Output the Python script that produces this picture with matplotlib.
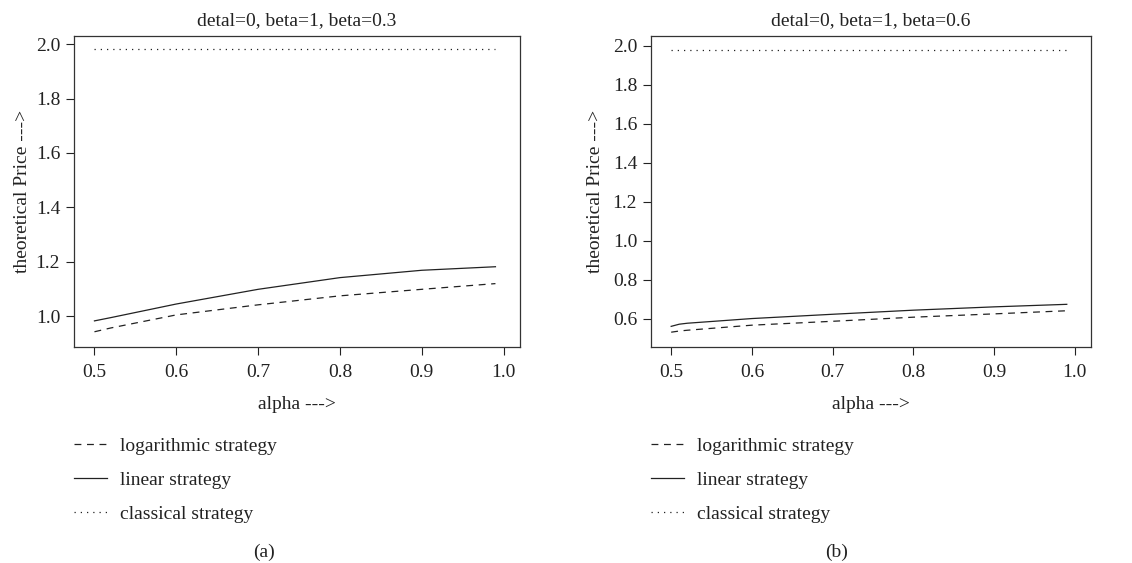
import numpy as np
import matplotlib
matplotlib.use('Agg')
import matplotlib.pyplot as plt

plt.rcParams['font.family'] = ['Liberation Serif', 'DejaVu Serif']
plt.rcParams['font.size'] = 14

# values
alpha = [0.5, 0.51, 0.52, 0.6, 0.7, 0.8, 0.9, 0.99]

log_a = [0.943, 0.950, 0.957, 1.005, 1.042, 1.075, 1.099, 1.120]
lin_a = [0.983, 0.989, 0.995, 1.045, 1.099, 1.142, 1.169, 1.182]
cls_a = [1.983] * len(alpha)

log_b = [0.530, 0.536, 0.540, 0.566, 0.586, 0.607, 0.624, 0.640]
lin_b = [0.560, 0.571, 0.576, 0.600, 0.622, 0.643, 0.660, 0.673]
cls_b = [1.980] * len(alpha)

titles = ['detal=0, beta=1, beta=0.3', 'detal=0, beta=1, beta=0.6']
panel_tags = ['(a)', '(b)']
labels = ['logarithmic strategy', 'linear strategy', 'classical strategy']

W, H = 1132, 563
fig = plt.figure(figsize=(W / 100, H / 100), dpi=100)

def px_box(x0, y0, x1, y1):
    return [x0 / W, 1 - y1 / H, (x1 - x0) / W, (y1 - y0) / H]

def panel(box, title, log, lin, cls, ylim, yticks, leg_xy, tag_xy, tag, ylpad):
    ax = fig.add_axes(px_box(*box))
    l1, = ax.plot(alpha, log, color='#222222', lw=0.9, linestyle=(0, (5.5, 4.5)))
    l2, = ax.plot(alpha, lin, color='#222222', lw=0.9)
    l3, = ax.plot(alpha, cls, color='#222222', lw=0.9, linestyle=(0, (1, 4)))
    ax.set_xlim(0.475, 1.02)
    ax.set_ylim(*ylim)
    ax.set_xticks([0.5, 0.6, 0.7, 0.8, 0.9, 1.0])
    ax.set_yticks(yticks)
    ax.xaxis.set_major_formatter(plt.FormatStrFormatter('%.1f'))
    ax.yaxis.set_major_formatter(plt.FormatStrFormatter('%.1f'))
    ax.tick_params(direction='out', length=6, width=0.8, colors='#222222',
                   labelsize=14, pad=4)
    ax.tick_params(axis='x', pad=6)
    for s in ax.spines.values():
        s.set_linewidth(0.9)
        s.set_color('#333333')
    ax.set_title(title, fontsize=14, pad=8, color='#222222')
    ax.set_xlabel('alpha --->', fontsize=14, labelpad=11, color='#222222')
    ax.set_ylabel('theoretical Price --->', fontsize=14, labelpad=ylpad, color='#222222')
    fig.legend([l1, l2, l3], labels, loc='upper left',
               bbox_to_anchor=(leg_xy[0] / W, 1 - leg_xy[1] / H),
               frameon=False, fontsize=14, handlelength=1.7,
               handletextpad=0.67, labelspacing=0.85, borderpad=0,
               borderaxespad=0, labelcolor='#222222')
    fig.text(tag_xy[0] / W, 1 - tag_xy[1] / H, tag, ha='center', va='center',
             fontsize=14, color='#222222')
    return ax

panel((74, 36, 520, 347), titles[0], log_a, lin_a, cls_a, (0.887, 2.03),
      [1.0, 1.2, 1.4, 1.6, 1.8, 2.0], (74, 437), (264, 552), panel_tags[0], 3)
panel((651, 36, 1091, 347), titles[1], log_b, lin_b, cls_b, (0.454, 2.05),
      [0.6, 0.8, 1.0, 1.2, 1.4, 1.6, 1.8, 2.0], (651, 437), (837, 552), panel_tags[1], 6)

fig.savefig('out.png', dpi=100, facecolor='white')
